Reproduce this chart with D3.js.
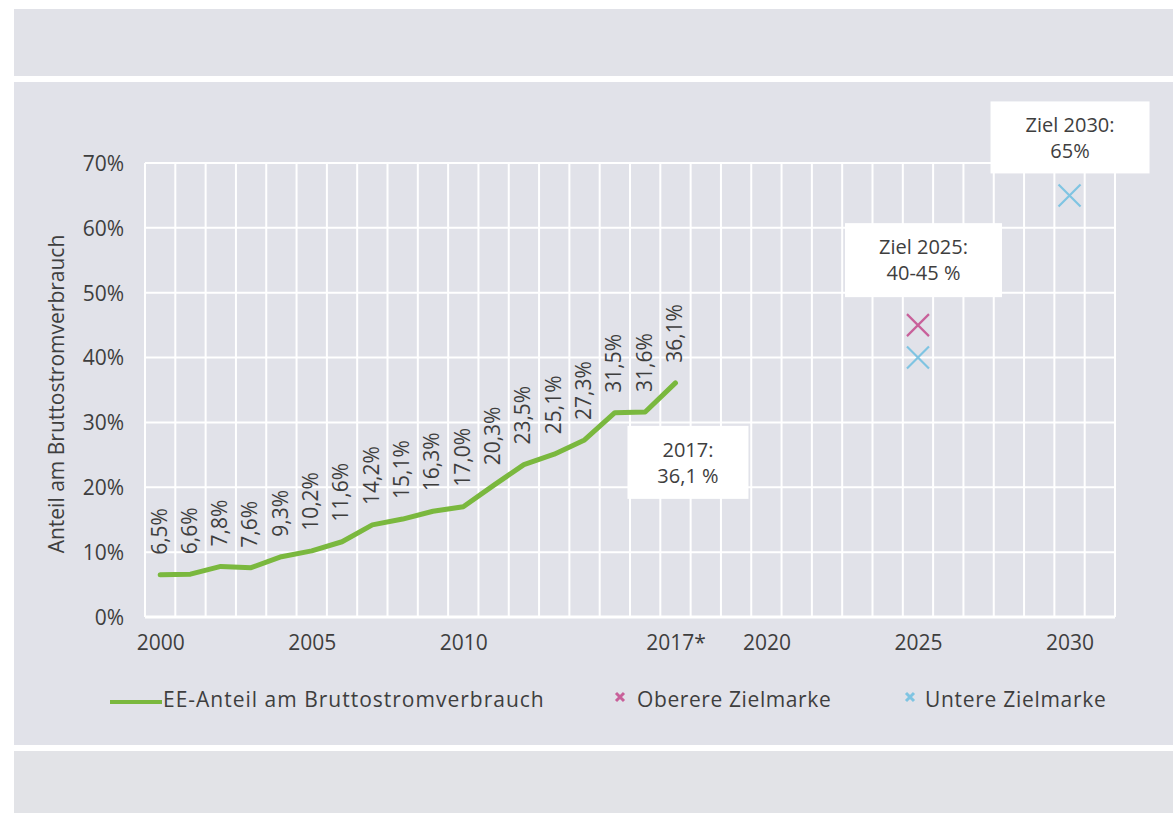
<!DOCTYPE html>
<html>
<head>
<meta charset="utf-8">
<script src="https://cdn.jsdelivr.net/npm/d3@7"></script>
<style>
  html, body { margin: 0; padding: 0; background: #ffffff; }
  svg { display: block; }
  text { font-family: "Open Sans", "Noto Sans", sans-serif; fill: #3e3e3e; }
</style>
</head>
<body>
<svg id="chart" width="1173" height="813"></svg>
<script>
// ---- data ----
const years = [2000,2001,2002,2003,2004,2005,2006,2007,2008,2009,2010,2011,2012,2013,2014,2015,2016,2017];
const shares = [6.5,6.6,7.8,7.6,9.3,10.2,11.6,14.2,15.1,16.3,17.0,20.3,23.5,25.1,27.3,31.5,31.6,36.1];
const shareLabels = ["6,5%","6,6%","7,8%","7,6%","9,3%","10,2%","11,6%","14,2%","15,1%","16,3%","17,0%","20,3%","23,5%","25,1%","27,3%","31,5%","31,6%","36,1%"];
const upperTargets = [{year: 2025, value: 45}];
const lowerTargets = [{year: 2025, value: 40}, {year: 2030, value: 65}];
const xTicks = [2000, 2005, 2010, 2017, 2020, 2025, 2030];
const xTickLabels = ["2000", "2005", "2010", "2017*", "2020", "2025", "2030"];
const yTicks = [0, 10, 20, 30, 40, 50, 60, 70];
const annotations = [
  {year: 2017, value: 36.1, lines: ["2017:", "36,1 %"]},
  {year: 2025, value: 45, lines: ["Ziel 2025:", "40-45 %"]},
  {year: 2030, value: 65, lines: ["Ziel 2030:", "65%"]}
];
const legendItems = ["EE-Anteil am Bruttostromverbrauch", "Oberere Zielmarke", "Untere Zielmarke"];

// ---- layout ----
const svg = d3.select("#chart");
const bg = "#e1e2e9";
const green = "#7ab83e", pink = "#c8609a", blue = "#7fc4e2";
const FS = "21px";

svg.append("rect").attr("x", 14).attr("y", 9).attr("width", 1159).attr("height", 67).attr("fill", "#e1e2e8");
svg.append("rect").attr("x", 14).attr("y", 82).attr("width", 1159).attr("height", 663).attr("fill", bg);
svg.append("rect").attr("x", 14).attr("y", 751).attr("width", 1159).attr("height", 62).attr("fill", "#e2e3e7");

const x = d3.scaleLinear().domain([1999.5, 2031.5]).range([145, 1115]);
const y = d3.scaleLinear().domain([0, 70]).range([617, 163]);

const g = svg.append("g");

// vertical grid lines at year boundaries
const boundaries = d3.range(1999.5, 2031.6, 1);
g.selectAll("line.vg").data(boundaries).enter().append("line")
  .attr("x1", d => x(d)).attr("x2", d => x(d))
  .attr("y1", y(70)).attr("y2", y(0))
  .attr("stroke", "#ffffff").attr("stroke-width", 2);

// horizontal grid
g.selectAll("line.hg").data(yTicks).enter().append("line")
  .attr("x1", x(1999.5)).attr("x2", x(2031.5))
  .attr("y1", d => y(d)).attr("y2", d => y(d))
  .attr("stroke", "#ffffff").attr("stroke-width", d => d === 0 ? 3 : 2);

// y axis
const yAxis = d3.axisLeft(y).tickValues(yTicks).tickFormat(d => d + "%").tickSize(0).tickPadding(0);
const ya = svg.append("g").attr("transform", "translate(124,0)").call(yAxis);
ya.select(".domain").remove();
ya.selectAll("text").style("font-size", FS).attr("fill", "#3e3e3e").attr("dy", "0.35em")
  .style("font-family", '"Open Sans", sans-serif');

// x axis
const xAxis = d3.axisBottom(x).tickValues(xTicks).tickFormat((d, i) => xTickLabels[i]).tickSize(0).tickPadding(0);
const xa = svg.append("g").attr("transform", "translate(0,643)").call(xAxis);
xa.select(".domain").remove();
xa.selectAll("text").style("font-size", FS).attr("fill", "#3e3e3e").attr("dy", "0.35em")
  .style("font-family", '"Open Sans", sans-serif');

// y axis title
svg.append("text")
  .attr("transform", `translate(64,${y(35) + 4}) rotate(-90)`)
  .attr("text-anchor", "middle")
  .style("font-size", FS)
  .text("Anteil am Bruttostromverbrauch");

// line
const series = years.map((yr, i) => ({year: yr, value: shares[i], label: shareLabels[i]}));
const line = d3.line().x(d => x(d.year)).y(d => y(d.value));
g.append("path").datum(series)
  .attr("d", line).attr("fill", "none")
  .attr("stroke", green).attr("stroke-width", 5)
  .attr("stroke-linejoin", "round").attr("stroke-linecap", "round");

// data labels
g.selectAll("text.dl").data(series).enter().append("text")
  .attr("transform", d => `translate(${x(d.year) - 1},${y(d.value) - 20}) rotate(-90)`)
  .attr("text-anchor", "start")
  .attr("dy", "0.35em")
  .style("font-size", FS)
  .text(d => d.label);

// markers
function cross(sel, color, size, sw) {
  sel.append("path")
    .attr("d", `M${-size},${-size}L${size},${size}M${-size},${size}L${size},${-size}`)
    .attr("stroke", color).attr("stroke-width", sw).attr("fill", "none");
}
g.selectAll("g.up").data(upperTargets).enter().append("g")
  .attr("transform", d => `translate(${x(d.year)},${y(d.value)})`)
  .each(function() { cross(d3.select(this), pink, 11, 2.2); });
g.selectAll("g.lo").data(lowerTargets).enter().append("g")
  .attr("transform", d => `translate(${x(d.year)},${y(d.value)})`)
  .each(function() { cross(d3.select(this), blue, 11, 2.2); });

// annotation boxes (position relative to data point)
const boxSpec = [
  {dx: -48, dy: 43, w: 121, h: 73},
  {dx: -73, dy: -102, w: 157, h: 74},
  {dx: -79, dy: -94, w: 159, h: 72}
];
annotations.forEach((a, i) => {
  const b = boxSpec[i];
  const bx = x(a.year) + b.dx, by = y(a.value) + b.dy;
  svg.append("rect").attr("x", bx).attr("y", by).attr("width", b.w).attr("height", b.h).attr("fill", "#ffffff");
  a.lines.forEach((t, j) => {
    svg.append("text")
      .attr("x", bx + b.w / 2).attr("y", by + 24 + j * 26)
      .attr("text-anchor", "middle").attr("dy", "0.35em")
      .style("font-size", "20px")
      .text(t);
  });
});

// legend
const ly = 700;
svg.append("line").attr("x1", 110).attr("x2", 162).attr("y1", ly + 2).attr("y2", ly + 2)
  .attr("stroke", green).attr("stroke-width", 4);
const legText = (xx, t, ls) => svg.append("text").attr("x", xx).attr("y", ly).attr("dy", "0.35em")
  .style("font-size", FS).style("letter-spacing", ls).text(t);
legText(163, legendItems[0], "1px");
const lm1 = svg.append("g").attr("transform", `translate(620,${ly - 3})`);
cross(lm1, pink, 4, 3);
legText(637, legendItems[1], "0.6px");
const lm2 = svg.append("g").attr("transform", `translate(910,${ly - 3})`);
cross(lm2, blue, 4, 3);
legText(925, legendItems[2], "0.7px");
</script>
</body>
</html>
